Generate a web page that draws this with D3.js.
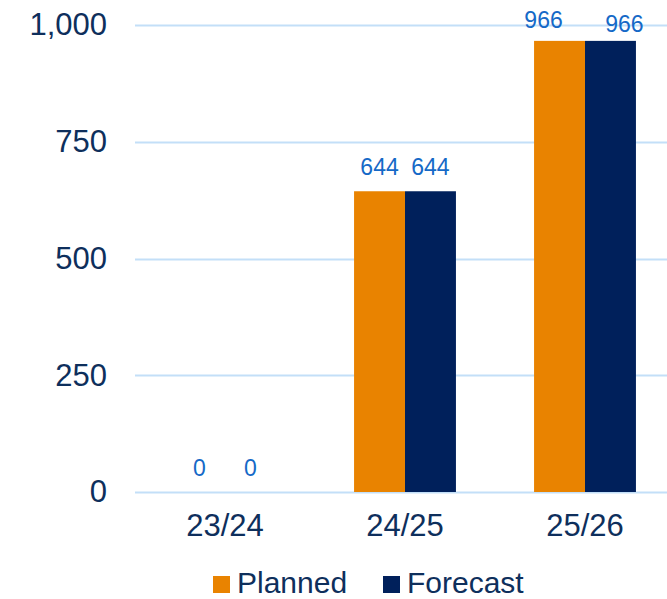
<!DOCTYPE html>
<html>
<head>
<meta charset="utf-8">
<script src="https://cdn.jsdelivr.net/npm/d3@7"></script>
<style>
  html, body { margin: 0; padding: 0; background: #fff; }
  svg { display: block; font-family: "Liberation Sans", Arial, sans-serif; }
</style>
</head>
<body>
<svg id="chart" width="667" height="599"></svg>
<script>
// Years on the x axis
const categories = ["23/24", "24/25", "25/26"];
// Series
const seriesNames = ["Planned", "Forecast"];
const planned = [0, 644, 966];
const forecast = [0, 644, 966];
// Y axis ticks
const yTicks = [0, 250, 500, 750, 1000];

const colors = { Planned: "#E98300", Forecast: "#00205B" };
const gridColor = "#C3DFF8";
const textColor = "#0E2F5C";
const labelColor = "#1569C7";

const svg = d3.select("#chart");
const W = 667, H = 599;
const margin = { left: 135, right: -8, top: 25, bottom: 107 };

const x0 = d3.scaleBand()
  .domain(categories)
  .range([margin.left, W - margin.right])
  .paddingInner(0.434)
  .paddingOuter(0.217);

const x1 = d3.scaleBand()
  .domain(seriesNames)
  .range([0, x0.bandwidth()]);

const y = d3.scaleLinear()
  .domain([0, 1000])
  .range([H - margin.bottom, margin.top]);

// Gridlines
svg.append("g")
  .selectAll("line")
  .data(yTicks)
  .join("line")
  .attr("x1", margin.left)
  .attr("x2", W)
  .attr("y1", d => Math.round(y(d)) + 0.5)
  .attr("y2", d => Math.round(y(d)) + 0.5)
  .attr("stroke", gridColor)
  .attr("stroke-width", 2);

// Y axis labels
const yAxis = d3.axisLeft(y).tickValues(yTicks).tickFormat(d3.format(",")).tickSize(0).tickPadding(28);
const gy = svg.append("g").attr("transform", `translate(${margin.left},0)`).call(yAxis);
gy.select(".domain").remove();
gy.selectAll("text")
  .attr("font-size", 31)
  .attr("fill", textColor)
  .attr("font-family", "Liberation Sans, Arial, sans-serif");

// X axis labels
const xAxis = d3.axisBottom(x0).tickSize(0).tickPadding(22);
const gx = svg.append("g").attr("transform", `translate(0,${y(0)})`).call(xAxis);
gx.select(".domain").remove();
gx.selectAll("text")
  .attr("font-size", 31)
  .attr("fill", textColor)
  .attr("font-family", "Liberation Sans, Arial, sans-serif");

// Bars
const rows = categories.map((c, i) => ({
  category: c,
  values: [
    { key: "Planned", value: planned[i] },
    { key: "Forecast", value: forecast[i] }
  ]
}));

const groups = svg.append("g")
  .selectAll("g")
  .data(rows)
  .join("g")
  .attr("transform", d => `translate(${x0(d.category)},0)`);

groups.selectAll("rect")
  .data(d => d.values)
  .join("rect")
  .attr("x", d => x1(d.key))
  .attr("width", x1.bandwidth())
  .attr("y", d => y(d.value))
  .attr("height", d => y(0) - y(d.value))
  .attr("fill", d => colors[d.key]);

// Value labels above bars; labels that would run into the top of the plot
// are pulled down and nudged outward so they stay readable.
const labelTop = 28;
groups.selectAll("text.val")
  .data(d => d.values)
  .join("text")
  .attr("class", "val")
  .attr("x", d => {
    const cx = x1(d.key) + x1.bandwidth() / 2;
    const by = y(d.value) - 16;
    if (by < labelTop) return cx + (d.key === "Planned" ? -16 : 14);
    return cx;
  })
  .attr("y", d => {
    const by = y(d.value) - 16;
    if (by < labelTop) return d.key === "Planned" ? labelTop : labelTop + 4;
    return by;
  })
  .attr("text-anchor", "middle")
  .attr("font-size", 23)
  .attr("fill", labelColor)
  .text(d => d3.format(",")(d.value));

// Legend
const legend = svg.append("g").attr("transform", "translate(213,576)");
const items = [
  { key: "Planned", x: 0 },
  { key: "Forecast", x: 170 }
];
const li = legend.selectAll("g").data(items).join("g")
  .attr("transform", d => `translate(${d.x},0)`);
li.append("rect").attr("width", 17).attr("height", 17).attr("fill", d => colors[d.key]);
li.append("text")
  .attr("x", 24)
  .attr("y", 17)
  .attr("font-size", 30)
  .attr("fill", textColor)
  .text(d => d.key);
</script>
</body>
</html>
